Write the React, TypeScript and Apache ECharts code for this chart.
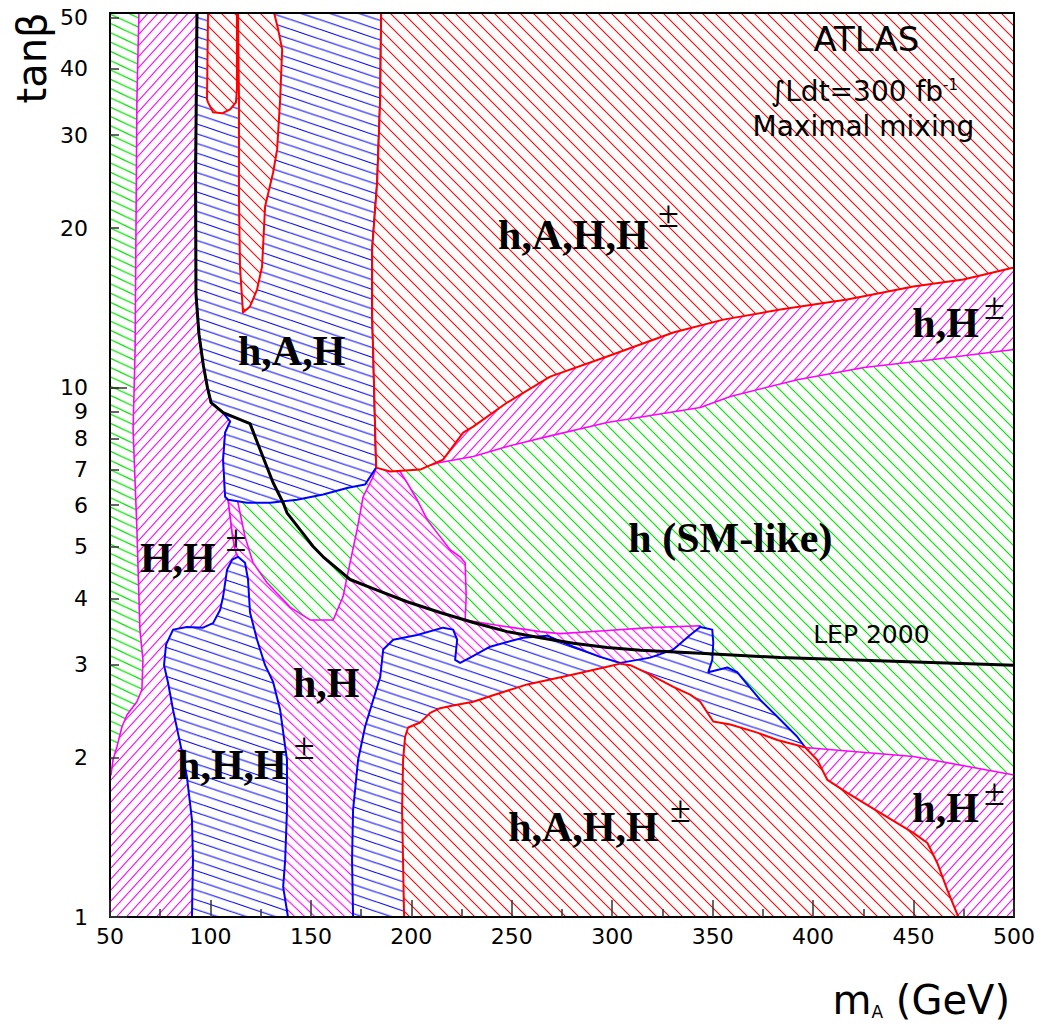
import React, { useEffect, useRef } from 'react';
import * as echarts from 'echarts';

// ---------- axes ----------
const X_MIN = 50;
const X_MAX = 500;
const Y_MIN = 1;
const Y_MAX = 51;
const Y_TICKS = [1, 2, 3, 4, 5, 6, 7, 8, 9, 10, 20, 30, 40, 50];
const Y_MAJOR_TICKS = [1, 10];

// ---------- region boundaries, [mA (GeV), tan beta] ----------
const GREEN_ALL = [[50, 1], [500, 1], [500, 51], [50, 51]];

const STRIP = [[50, 51], [64.4, 51], [63.4, 35], [62.5, 11.8], [61.5, 8.33], [63.4, 5.39], [64.9, 3.49], [66.4, 3.06],
  [65.9, 2.69], [63.4, 2.55], [58.5, 2.41], [56, 2.29], [53.5, 2.10], [51.5, 1.98], [50.5, 1.855], [50, 1.85]];

const M1 = [[64.4, 51], [93.3, 51], [92.6, 25], [92.8, 15], [94.3, 12.6], [96.5, 11], [98.5, 10], [100.3, 9.37],
  [105.8, 9.01], [109.8, 8.63], [107.3, 8.22], [106.3, 7.31], [107.3, 6.22], [108.8, 6.14], [110.8, 5.32],
  [112.2, 4.94], [113.7, 4.79], [114.7, 1], [50, 1], [50, 1.85], [50.5, 1.855], [51.5, 1.98], [53.5, 2.10],
  [56, 2.29], [58.5, 2.41], [63.4, 2.55], [65.9, 2.69], [66.4, 3.06], [64.9, 3.49], [63.4, 5.39], [61.5, 8.33],
  [62.5, 11.8], [63.4, 35]];

const M2 = [[108.8, 6.14], [144.6, 6.36], [182.5, 7.12], [194.4, 6.94], [197.9, 6.61], [202.9, 6.14], [207.9, 5.63],
  [214.3, 5.23], [219.3, 4.94], [224.3, 4.79], [226.8, 4.67], [227.3, 4.03], [226.8, 3.64], [244.2, 3.55],
  [264.1, 3.46], [274.1, 3.43], [294, 3.47], [318.9, 3.52], [343.8, 3.55], [346.3, 3.34], [338.8, 2.93],
  [219.3, 2.57], [171, 1], [114.7, 1], [113.7, 4.79], [112.2, 4.94], [110.8, 5.32]];

const POCKET = [[113.7, 6.06], [117.2, 5.23], [121.2, 4.67], [128.2, 4.28], [139.6, 3.85], [149.6, 3.64], [161.1, 3.64],
  [166, 4.03], [169.5, 4.67], [173, 5.39], [176, 6.22], [181, 6.79], [182.5, 7.06], [144.6, 6.56], [113.7, 6.28]];

const B1 = [[93.3, 51], [92.6, 25], [92.8, 15], [94.3, 12.6], [96.5, 11], [98.5, 10], [100.3, 9.37], [105.8, 9.01],
  [109.8, 8.63], [107.3, 8.22], [106.3, 7.31], [107.3, 6.22], [108.8, 6.14], [118.2, 6.06], [129.7, 6.06],
  [143.1, 6.14], [156.1, 6.28], [168.5, 6.47], [177, 6.56], [182.5, 7.06], [182, 8.33], [181, 11.8], [180.5, 13.62],
  [180.5, 18.24], [183, 24.41], [184.5, 35.0], [185, 51]];

const B2 = [[113.7, 4.79], [117.2, 4.67], [118.7, 4.34], [119.7, 3.76], [123.2, 3.34], [127.2, 2.99], [131.2, 2.78],
  [134.7, 2.46], [138.1, 1.98], [138.1, 1.594], [137.2, 1.282], [136.2, 1.14], [138.6, 1], [90.8, 1], [91.3, 1.282],
  [90.8, 1.525], [88.3, 1.84], [84.9, 2.13], [81.4, 2.46], [78.9, 2.77], [76.9, 2.99], [77.9, 3.27], [81.4, 3.49],
  [88.3, 3.53], [96.3, 3.52], [101.3, 3.59], [104.8, 3.80], [106.3, 4.03], [108.3, 4.53], [110.8, 4.73]];

const B3 = [[171, 1], [170.5, 1.282], [171, 1.594], [173.5, 1.98], [177, 2.29], [181, 2.57], [184.5, 2.84], [186, 3.20],
  [191, 3.34], [202.9, 3.41], [215.8, 3.52], [220.8, 3.49], [222.8, 3.34], [221.8, 3.06], [224.3, 3.02],
  [229.3, 3.09], [239.2, 3.24], [255.7, 3.37], [267.6, 3.40], [280.6, 3.24], [294, 3.10], [304, 3.02],
  [318.9, 3.09], [330.4, 3.20], [338.8, 3.41], [343.8, 3.53], [349.8, 3.49], [350.3, 3.30], [349.8, 3.06],
  [347.8, 2.90], [357.3, 2.96], [362.2, 2.90], [366.2, 2.78], [373.7, 2.57], [382.2, 2.39], [392.1, 2.19],
  [396.1, 2.09], [343.8, 1.664], [196.4, 1]];

const MU = [[204.4, 7.06], [214.3, 7.22], [230.8, 7.41], [247.7, 7.74], [267.6, 8.08], [297.5, 8.59], [343.8, 9.17],
  [358.8, 9.62], [392.1, 10.35], [425.4, 10.91], [458.8, 11.29], [500, 11.8], [500, 22.67], [204.4, 8.70]];

const ML = [[396.1, 2.09], [449.9, 2.01], [500, 1.855], [500, 1], [443.4, 1], [396.1, 1.664]];

const R1 = [[185, 51], [500, 51], [500, 16.86], [474.8, 16.0], [449.9, 15.52], [417, 14.67], [383.7, 14.04],
  [355.3, 13.44], [330.4, 12.71], [297.5, 11.45], [269.1, 10.49], [247.7, 9.37], [230.8, 8.44], [225.8, 8.22],
  [215.8, 7.31], [204.4, 7.0], [189.4, 6.94], [182.5, 7.06], [182, 8.33], [181, 11.8], [180.5, 13.62],
  [180.5, 18.24], [183, 24.41], [184.5, 35.0]];

const R_BLOB = [[98.8, 51], [98.3, 35.03], [98.8, 34.58], [101.3, 33.11], [105.8, 32.96], [109.8, 33.54],
  [112.7, 34.58], [113.2, 36.59], [113.2, 43.53], [113.2, 51]];

const R_SPIKE = [[113.7, 51], [114.2, 35.03], [114.2, 22.67], [114.7, 16.93], [116.2, 13.86], [119.7, 14.23],
  [123.2, 15.32], [125.7, 16.93], [127.2, 21.99], [131.2, 25.49], [133.2, 28.18], [134.7, 35.03], [135.7, 43.53],
  [133.7, 47.5], [131.7, 51]];

const R3 = [[196.4, 1], [195.4, 1.594], [195.9, 1.98], [196.9, 2.19], [198.4, 2.28], [204.4, 2.33], [209.4, 2.43],
  [214.3, 2.48], [220.8, 2.51], [230.8, 2.55], [244.2, 2.65], [257.7, 2.75], [280.6, 2.87], [297.5, 2.97],
  [304, 3.01], [309, 2.99], [318.9, 2.87], [330.4, 2.72], [338.8, 2.63], [343.8, 2.55], [350.3, 2.34],
  [358.8, 2.31], [372.2, 2.23], [382.2, 2.16], [392.1, 2.11], [396.1, 2.09], [402.1, 1.98], [407.1, 1.815],
  [417, 1.716], [433.4, 1.573], [449.9, 1.442], [456.9, 1.38], [461.8, 1.265], [466.8, 1.125], [472.3, 1]];

// LEP 2000 exclusion line
const LEP = [[93.3, 51], [92.6, 25], [92.8, 15], [94.3, 12.6], [96.5, 11], [98.5, 10], [100.3, 9.37], [106.3, 8.97],
  [119.7, 8.55], [124.7, 7.64], [131.2, 6.61], [136.2, 6.06], [138.1, 5.80], [144.6, 5.39], [151.1, 5.01],
  [156.1, 4.79], [169.5, 4.34], [181, 4.17], [197.9, 3.94], [214.3, 3.76], [230.8, 3.60], [247.7, 3.46],
  [264.1, 3.37], [280.6, 3.29], [297.5, 3.23], [314, 3.19], [343.8, 3.15], [383.7, 3.09], [500, 2.99]];

// ---------- labels ----------
const REGION_LABEL_TEXT = ['h,A,H,H', 'h,A,H', 'H,H', 'h,H', 'h,H,H', 'h (SM-like)', 'h,H', 'h,H', 'h,A,H,H'];
const REGION_LABEL_MA = [243.2, 113.7, 64.9, 141.1, 83.4, 308.0, 449.4, 449.4, 248.2];
const REGION_LABEL_TANB = [19.46, 11.70, 4.77, 2.77, 1.937, 5.20, 13.27, 1.607, 1.480];
const PM_MA = [328.0, 112.7, 146.6, 490.2, 490.2, 333.9];
const PM_TANB = [21.3, 5.20, 2.10, 14.29, 1.723, 1.600];
const NOTE_TEXT = ['ATLAS', '{a|∫Ldt=300 fb}{b|-1}', 'Maximal mixing', 'LEP 2000'];
const NOTE_MA = [426.5, 425.5, 425.0, 429.0];
const NOTE_TANB = [45.5, 36.27, 31.14, 3.41];
const NOTE_SIZE = [34, 28, 28, 25];

// ---------- hatch patterns ----------
function hatch(color: string, w: number, h: number, dir: 'down' | 'up', lw: number) {
  let lines = '';
  for (let k = -2; k <= 3; k++) {
    if (dir === 'down') {
      lines += `<line x1='${-w}' y1='${-h + k * h}' x2='${2 * w}' y2='${2 * h + k * h}'/>`;
    } else {
      lines += `<line x1='${-w}' y1='${h + k * h}' x2='${2 * w}' y2='${-2 * h + k * h}'/>`;
    }
  }
  const svg = `<svg xmlns='http://www.w3.org/2000/svg' width='${w}' height='${h}' viewBox='0 0 ${w} ${h}'>` +
    `<rect x='0' y='0' width='${w}' height='${h}' fill='#ffffff'/>` +
    `<g stroke='${color}' stroke-width='${lw}' fill='none'>${lines}</g></svg>`;
  return {
    image: 'data:image/svg+xml;charset=utf-8,' + encodeURIComponent(svg),
    repeat: 'repeat',
    imageWidth: w,
    imageHeight: h,
  };
}

const RED = '#ff0000';
const BLUE = '#0000ff';
const MAG = '#ff00ff';
const GREEN = '#00e600';

export default function App() {
  const ref = useRef<HTMLDivElement>(null);

  useEffect(() => {
    const chart = echarts.init(ref.current as HTMLDivElement, null, { renderer: 'svg' });

    const pRed = hatch(RED, 13, 13, 'down', 1.1);
    const pGreen = hatch(GREEN, 13, 13, 'down', 1.2);
    const pGreenStrip = hatch(GREEN, 20, 9.3, 'down', 1.2);
    const pBlue = hatch(BLUE, 29, 9.7, 'down', 1.1);
    const pMagUp = hatch(MAG, 10, 11, 'up', 1.1);
    const pMagDown = hatch(MAG, 10, 9.5, 'down', 1.1);

    const regions = [
      { pts: GREEN_ALL, fill: pGreen, stroke: null, lw: 0 },
      { pts: STRIP, fill: pGreenStrip, stroke: null, lw: 0 },
      { pts: M1, fill: pMagUp, stroke: MAG, lw: 1.6 },
      { pts: M2, fill: pMagDown, stroke: MAG, lw: 1.6 },
      { pts: POCKET, fill: pGreen, stroke: MAG, lw: 1.6 },
      { pts: B1, fill: pBlue, stroke: BLUE, lw: 2 },
      { pts: B2, fill: pBlue, stroke: BLUE, lw: 2 },
      { pts: B3, fill: pBlue, stroke: BLUE, lw: 2 },
      { pts: MU, fill: pMagUp, stroke: MAG, lw: 1.6 },
      { pts: ML, fill: pMagUp, stroke: MAG, lw: 1.6 },
      { pts: R1, fill: pRed, stroke: RED, lw: 2 },
      { pts: R_BLOB, fill: pRed, stroke: RED, lw: 2 },
      { pts: R_SPIKE, fill: pRed, stroke: RED, lw: 2 },
      { pts: R3, fill: pRed, stroke: RED, lw: 2 },
    ];

    type Lab = { text: string; x: number; y: number; kind: string; size?: number };
    const labels: Lab[] = [];
    REGION_LABEL_TEXT.forEach((t, i) => labels.push({ text: t, x: REGION_LABEL_MA[i], y: REGION_LABEL_TANB[i], kind: 'region' }));
    PM_MA.forEach((x, i) => labels.push({ text: '±', x, y: PM_TANB[i], kind: 'pm' }));
    NOTE_TEXT.forEach((t, i) => labels.push({ text: t, x: NOTE_MA[i], y: NOTE_TANB[i], kind: 'note', size: NOTE_SIZE[i] }));

    const tickStyle = { color: '#333', width: 1.5 };
    const axisLineStyle = { color: '#000', width: 2 };

    const option: any = {
      animation: false,
      backgroundColor: '#ffffff',
      grid: [
        { left: 110, right: 32, top: 13, bottom: 111, containLabel: false },
        { left: 110, right: 32, top: 13, bottom: 111, containLabel: false },
      ],
      xAxis: [
        {
          type: 'value', gridIndex: 0, min: X_MIN, max: X_MAX, interval: 50, position: 'bottom', z: 10,
          axisLine: { onZero: false, lineStyle: axisLineStyle },
          axisTick: { inside: true, length: 17, lineStyle: tickStyle },
          minorTick: { show: true, splitNumber: 2, length: 8, lineStyle: tickStyle },
          axisLabel: { color: '#000', fontSize: 22, fontFamily: 'DejaVu Sans', margin: 8 },
          splitLine: { show: false },
          minorSplitLine: { show: false },
        },
        {
          type: 'value', gridIndex: 0, min: X_MIN, max: X_MAX, position: 'top', z: 10,
          axisLine: { onZero: false, lineStyle: axisLineStyle },
          axisTick: { show: false }, axisLabel: { show: false }, splitLine: { show: false },
        },
        {
          type: 'value', gridIndex: 1, min: X_MIN, max: X_MAX, show: false,
        },
      ],
      yAxis: [
        {
          type: 'log', logBase: 10, gridIndex: 0, min: Y_MIN, max: Y_MAX, position: 'left', z: 10,
          axisLine: { onZero: false, lineStyle: axisLineStyle },
          axisTick: { inside: true, length: 9, customValues: Y_TICKS, lineStyle: tickStyle },
          axisLabel: { customValues: Y_TICKS, color: '#000', fontSize: 22, fontFamily: 'DejaVu Sans', margin: 22 },
          splitLine: { show: false },
        },
        {
          type: 'log', logBase: 10, gridIndex: 0, min: Y_MIN, max: Y_MAX, position: 'right', z: 10,
          axisLine: { onZero: false, lineStyle: axisLineStyle },
          axisTick: { show: false }, axisLabel: { show: false }, splitLine: { show: false },
        },
        {
          type: 'log', logBase: 10, gridIndex: 1, min: Y_MIN, max: Y_MAX, position: 'left', z: 10,
          axisLine: { show: false },
          axisTick: { inside: true, length: 17, customValues: Y_MAJOR_TICKS, lineStyle: tickStyle },
          axisLabel: { show: false }, splitLine: { show: false },
        },
      ],
      series: [
        {
          type: 'custom',
          xAxisIndex: 0, yAxisIndex: 0,
          z: 1, silent: true,
          emphasis: { disabled: true },
          data: regions.map(() => [275, 5]),
          renderItem: (params: any, api: any) => {
            const r = regions[params.dataIndex];
            const pts = r.pts.map((p) => api.coord(p));
            return {
              type: 'polygon',
              z2: params.dataIndex,
              shape: { points: pts },
              style: {
                fill: r.fill,
                stroke: r.stroke || 'rgba(0,0,0,0)',
                lineWidth: r.lw,
                lineJoin: 'round',
              },
            };
          },
        },
        {
          type: 'line',
          xAxisIndex: 0, yAxisIndex: 0,
          z: 5, silent: true, symbol: 'none',
          lineStyle: { color: '#000', width: 3 },
          data: LEP,
        },
        {
          type: 'custom',
          xAxisIndex: 0, yAxisIndex: 0,
          z: 6, silent: true,
          emphasis: { disabled: true },
          data: labels.map((l) => [l.x, l.y]),
          renderItem: (params: any, api: any) => {
            const l = labels[params.dataIndex];
            const p = api.coord([api.value(0), api.value(1)]);
            if (l.kind === 'region') {
              return {
                type: 'text', x: p[0], y: p[1], z2: 100,
                style: {
                  text: l.text, fill: '#000', fontSize: 42, fontWeight: 'bold',
                  fontFamily: 'Liberation Serif', align: 'left', verticalAlign: 'middle',
                },
              };
            }
            if (l.kind === 'pm') {
              return {
                type: 'text', x: p[0], y: p[1], z2: 100,
                style: {
                  text: l.text, fill: '#000', fontSize: 38, fontWeight: 'normal',
                  fontFamily: 'Liberation Serif', align: 'center', verticalAlign: 'middle',
                },
              };
            }
            return {
              type: 'text', x: p[0], y: p[1], z2: 100,
              style: {
                text: l.text, fill: '#000', fontSize: l.size, fontFamily: 'DejaVu Sans',
                align: 'center', verticalAlign: 'middle',
                rich: {
                  a: { fontSize: l.size, fontFamily: 'DejaVu Sans', fill: '#000' },
                  b: { fontSize: 15, fontFamily: 'DejaVu Sans', fill: '#000', verticalAlign: 'top', padding: [0, 0, 12, 0] },
                },
              },
            };
          },
        },
      ],
      graphic: [
        {
          type: 'text', x: 32, y: 58, rotation: Math.PI / 2, z: 20,
          style: { text: 'tanβ', fontSize: 40, fontFamily: 'DejaVu Sans', fill: '#000', align: 'center', verticalAlign: 'middle' },
        },
        {
          type: 'text', x: 1010, y: 1000, z: 20,
          style: {
            text: '{m|m}{a|A}{g| (GeV)}', align: 'right', verticalAlign: 'middle', fill: '#000',
            rich: {
              m: { fontSize: 40, fontFamily: 'DejaVu Sans', fill: '#000', verticalAlign: 'bottom' },
              a: { fontSize: 17, fontFamily: 'DejaVu Sans', fill: '#000', verticalAlign: 'bottom' },
              g: { fontSize: 40, fontFamily: 'DejaVu Sans', fill: '#000', verticalAlign: 'bottom' },
            },
          },
        },
      ],
    };

    chart.setOption(option);
    return () => chart.dispose();
  }, []);

  return (
    <div
      ref={ref}
      style={{ position: 'fixed', left: 0, top: 0, width: 1046, height: 1028, background: '#ffffff' }}
    />
  );
}
